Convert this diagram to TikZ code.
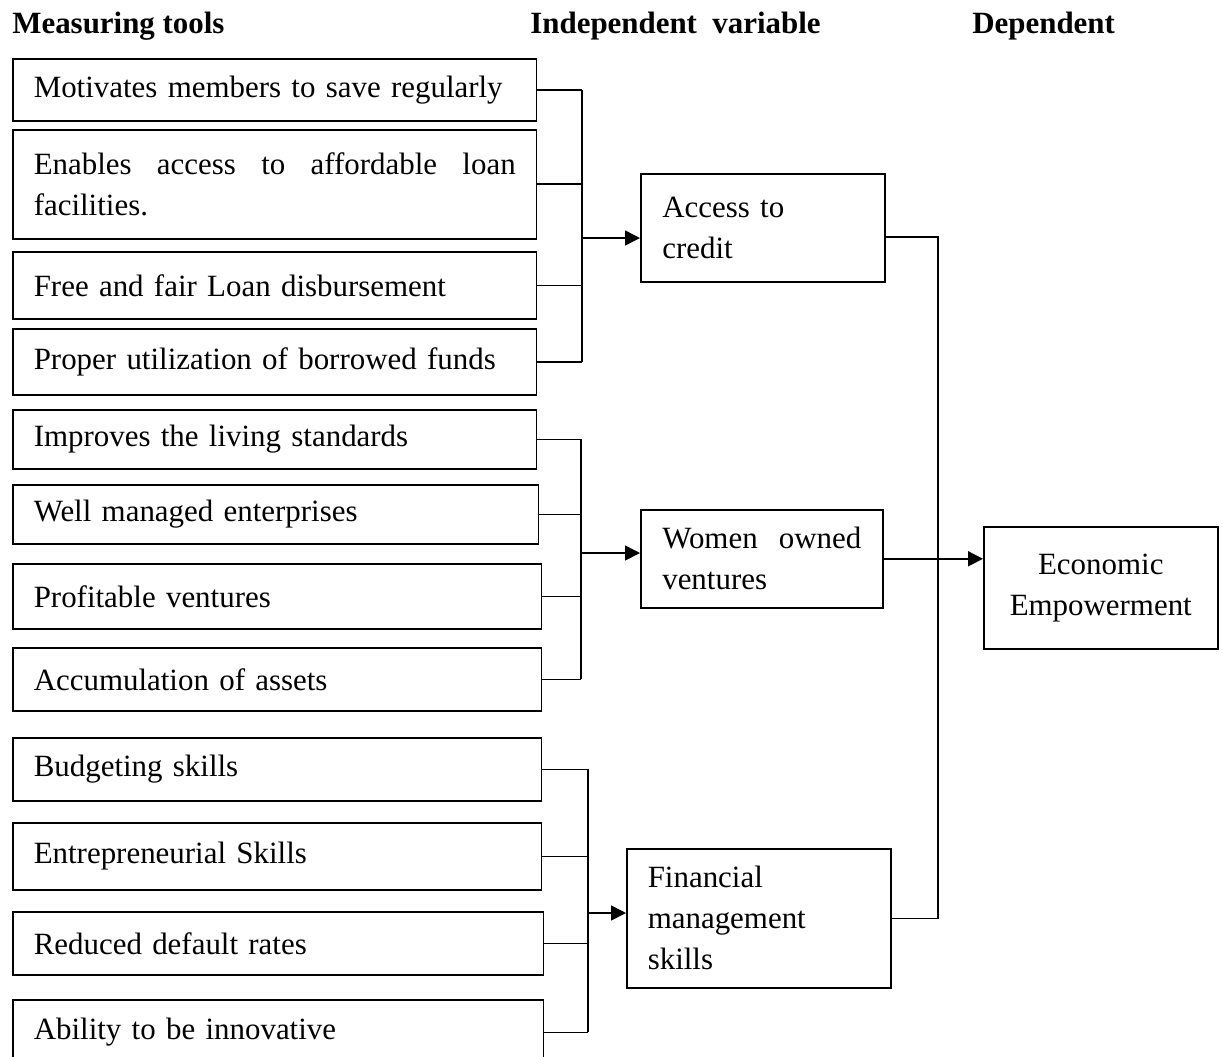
\documentclass[tikz,border=0pt]{standalone}
\usepackage{fontspec}
\setmainfont{Liberation Serif}
\usetikzlibrary{arrows.meta}

\newcommand{\boxfont}{\fontsize{17.6}{23.3}\selectfont}

\begin{document}
\begin{tikzpicture}[
    x=0.02cm, y=-0.02cm,
    tool/.style={draw, line width=0.9pt, rectangle, anchor=north west,
                 inner xsep=0.42cm, inner ysep=2pt, align=left,
                 font=\boxfont, text width=#1},
    var/.style={draw, line width=0.9pt, rectangle, anchor=north west,
                inner xsep=0.43cm, inner ysep=2pt, align=left,
                font=\boxfont, text width=#1},
    head/.style={anchor=west, inner xsep=0pt, font=\boxfont\bfseries},
    link/.style={line width=0.9pt},
    arrow/.style={line width=0.9pt, -{Triangle[length=0.3cm, width=0.3cm]}},
]
\useasboundingbox (0,0) rectangle (1223,1056);

% Column headings
\node[head] (h1) at (12,26) {Measuring tools};
\node[head] (h2) at (530,26) {Independent \ variable};
\node[head] (h3) at (972,26) {Dependent};

% Measuring tools
\node[tool=9.64cm, minimum height=1.24cm] (b1) at (12,58) {Motivates members to save regularly};
\node[tool=9.64cm, minimum height=2.18cm] (b2) at (12,129)
    {Enables\hfill access\hfill to\hfill affordable\hfill loan\\facilities.};
\node[tool=9.64cm, minimum height=1.34cm] (b3) at (12,251) {Free and fair Loan disbursement};
\node[tool=9.64cm, minimum height=1.32cm] (b4) at (12,328) {Proper utilization of borrowed funds};
\node[tool=9.64cm, minimum height=1.18cm] (b5) at (12,409) {Improves the living standards};
\node[tool=9.68cm, minimum height=1.18cm] (b6) at (12,484) {Well managed enterprises};
\node[tool=9.74cm, minimum height=1.30cm] (b7) at (12,563) {Profitable ventures};
\node[tool=9.74cm, minimum height=1.26cm] (b8) at (12,647) {Accumulation of assets};
\node[tool=9.74cm, minimum height=1.26cm] (b9) at (12,737) {Budgeting skills};
\node[tool=9.74cm, minimum height=1.34cm] (b10) at (12,822) {Entrepreneurial Skills};
\node[tool=9.78cm, minimum height=1.26cm] (b11) at (12,911) {Reduced default rates};
\node[tool=9.78cm, minimum height=1.30cm] (b12) at (12,999) {Ability to be innovative};

% Independent variables
\node[var=4.02cm, minimum height=2.16cm] (access) at (640,173) {Access to\\credit};
\node[var=3.98cm, minimum height=1.96cm] (women) at (640,509) {Women\hfill owned\\ventures};
\node[var=4.44cm, minimum height=2.78cm, inner xsep=0.42cm] (fin) at (626,848)
    {Financial\\management\\skills};

% Dependent variable
\node[draw, line width=0.9pt, anchor=north west, minimum width=4.68cm,
      minimum height=2.44cm, align=center, font=\boxfont] (econ) at (983,526)
    {Economic\\Empowerment};

% Joins of the three groups
\coordinate (bus1) at (582,238);
\coordinate (bus2) at (581,553);
\coordinate (bus3) at (588,913);
\coordinate (bus4) at (938,237);

\foreach \b in {b1,b2,b3,b4}
  \draw[link] (\b.east) -- (\b.east -| bus1);
\draw[link] (b1.east -| bus1) -- (b4.east -| bus1);
\draw[arrow] (bus1) -- (bus1 -| access.west);

\foreach \b in {b5,b6,b7,b8}
  \draw[link] (\b.east) -- (\b.east -| bus2);
\draw[link] (b5.east -| bus2) -- (b8.east -| bus2);
\draw[arrow] (bus2) -- (bus2 -| women.west);

\foreach \b in {b9,b10,b11,b12}
  \draw[link] (\b.east) -- (\b.east -| bus3);
\draw[link] (b9.east -| bus3) -- (b12.east -| bus3);
\draw[arrow] (bus3) -- (bus3 -| fin.west);

% To the dependent variable
\draw[link] (access.east |- bus4) -- (bus4) -- (bus4 |- fin.east) -- (fin.east);
\draw[arrow] (women.east) -- (women.east -| econ.west);

\end{tikzpicture}
\end{document}
